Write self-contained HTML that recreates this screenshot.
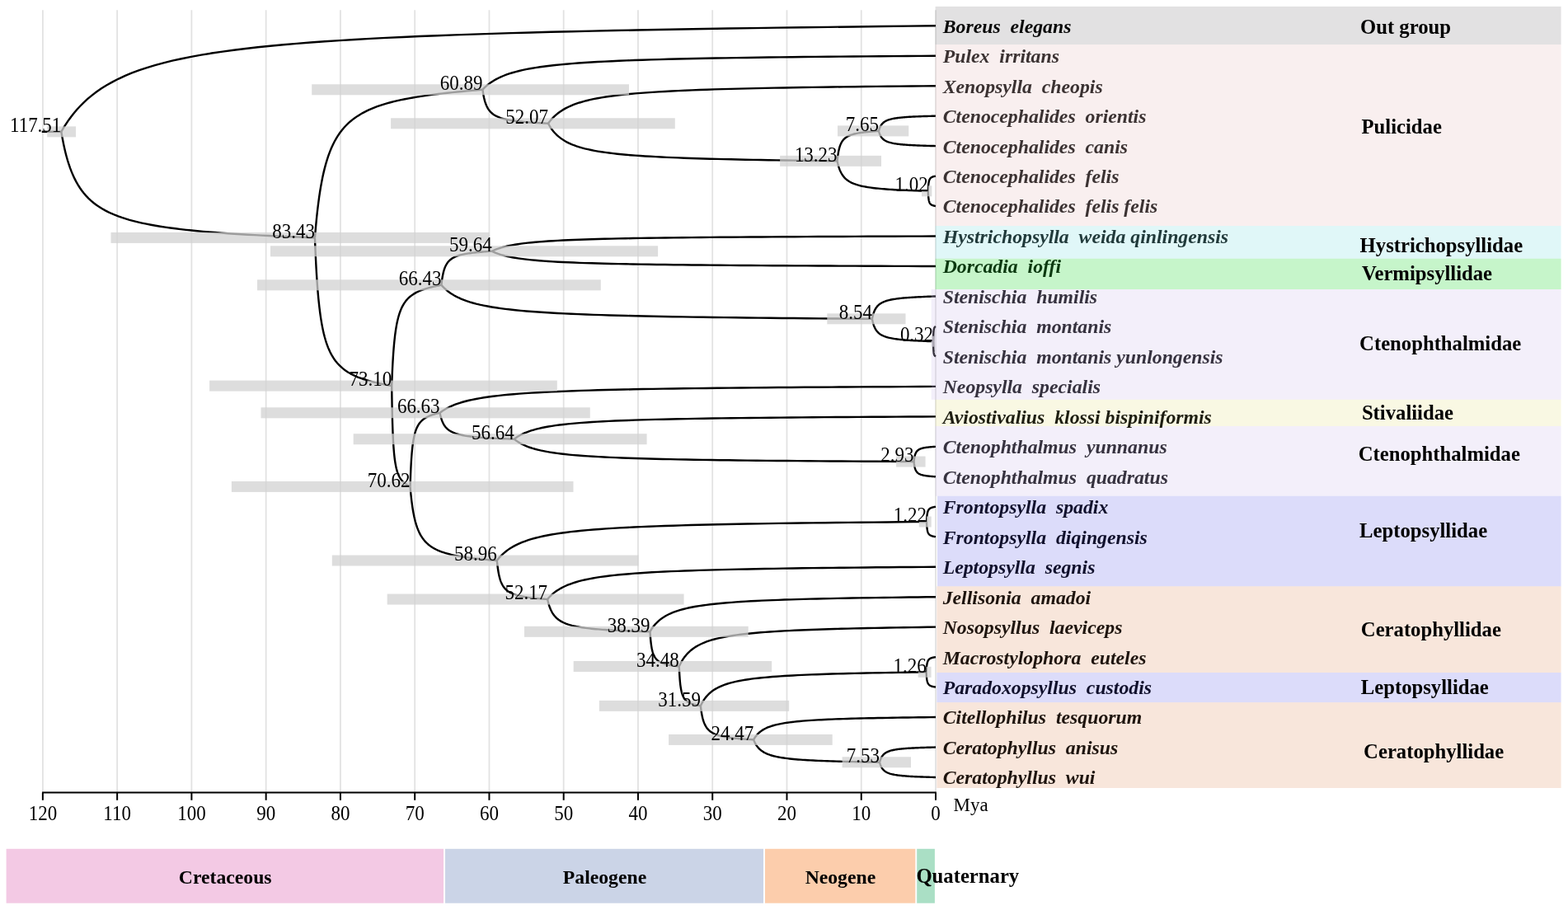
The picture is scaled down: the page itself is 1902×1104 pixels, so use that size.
<!DOCTYPE html><html><head><meta charset="utf-8"><title>Dated phylogeny</title><style>html,body{margin:0;padding:0;background:#fff;width:1902px;height:1104px;overflow:hidden}svg{display:block}text{font-family:"Liberation Serif","Times New Roman",serif}</style></head><body>
<svg width="1902" height="1104" viewBox="0 0 1902 1104">
<rect width="1902" height="1104" fill="#fff"/>
<g stroke="#e2e2e2" stroke-width="1.8"><line x1="1135.00" y1="12.3" x2="1135.00" y2="961" /><line x1="1044.74" y1="12.3" x2="1044.74" y2="961" /><line x1="954.48" y1="12.3" x2="954.48" y2="961" /><line x1="864.22" y1="12.3" x2="864.22" y2="961" /><line x1="773.96" y1="12.3" x2="773.96" y2="961" /><line x1="683.70" y1="12.3" x2="683.70" y2="961" /><line x1="593.44" y1="12.3" x2="593.44" y2="961" /><line x1="503.18" y1="12.3" x2="503.18" y2="961" /><line x1="412.92" y1="12.3" x2="412.92" y2="961" /><line x1="322.66" y1="12.3" x2="322.66" y2="961" /><line x1="232.40" y1="12.3" x2="232.40" y2="961" /><line x1="142.14" y1="12.3" x2="142.14" y2="961" /><line x1="51.88" y1="12.3" x2="51.88" y2="961" /></g>
<g fill="none" stroke="#000" stroke-width="2.4" stroke-linecap="butt"><path d="M50.7 159.84 L74.35 159.84"/><path d="M74.35 159.84 L74.45 159.67 L74.79 159.06 L75.43 157.96 L76.37 156.35 L77.65 154.23 L79.28 151.63 L81.26 148.60 L83.62 145.18 L86.36 141.44 L89.49 137.45 L93.03 133.27 L96.96 128.96 L101.32 124.58 L106.09 120.19 L111.30 115.83 L116.93 111.53 L123.01 107.33 L129.52 103.26 L136.49 99.33 L143.92 95.55 L151.80 91.93 L160.14 88.48 L168.96 85.20 L178.24 82.09 L188.00 79.13 L198.25 76.34 L208.97 73.70 L220.19 71.21 L231.89 68.85 L244.09 66.63 L256.79 64.54 L269.98 62.57 L283.69 60.70 L297.90 58.95 L312.62 57.29 L327.85 55.72 L343.60 54.25 L359.87 52.85 L376.66 51.53 L393.97 50.28 L411.82 49.10 L430.19 47.98 L449.10 46.92 L468.54 45.91 L488.52 44.96 L509.03 44.05 L530.10 43.19 L551.70 42.37 L573.85 41.59 L596.55 40.84 L619.81 40.13 L643.61 39.46 L667.98 38.81 L692.90 38.19 L718.38 37.60 L744.42 37.04 L771.02 36.50 L798.20 35.98 L825.94 35.48 L854.25 34.99 L883.13 34.53 L912.59 34.09 L942.62 33.65 L973.23 33.24 L1004.42 32.83 L1036.19 32.43 L1068.54 32.05 L1101.48 31.66 L1135.00 31.25"/><path d="M74.35 159.84 L74.38 160.01 L74.48 160.61 L74.67 161.72 L74.94 163.33 L75.31 165.45 L75.78 168.05 L76.36 171.08 L77.04 174.50 L77.84 178.23 L78.75 182.23 L79.77 186.41 L80.91 190.72 L82.17 195.10 L83.56 199.49 L85.07 203.85 L86.70 208.15 L88.46 212.34 L90.35 216.42 L92.38 220.35 L94.53 224.13 L96.81 227.74 L99.24 231.19 L101.79 234.48 L104.48 237.59 L107.32 240.54 L110.29 243.34 L113.40 245.98 L116.65 248.47 L120.04 250.82 L123.58 253.04 L127.26 255.14 L131.09 257.11 L135.06 258.97 L139.19 260.73 L143.45 262.39 L147.87 263.95 L152.44 265.43 L157.16 266.83 L162.03 268.15 L167.05 269.40 L172.23 270.58 L177.55 271.70 L183.04 272.76 L188.67 273.77 L194.47 274.72 L200.42 275.63 L206.53 276.49 L212.79 277.31 L219.22 278.09 L225.80 278.83 L232.55 279.54 L239.45 280.22 L246.52 280.87 L253.74 281.48 L261.13 282.07 L268.69 282.64 L276.40 283.18 L284.28 283.70 L292.33 284.20 L300.54 284.68 L308.91 285.15 L317.46 285.59 L326.17 286.02 L335.04 286.44 L344.09 286.85 L353.30 287.24 L362.69 287.63 L372.24 288.02 L381.96 288.43"/><path d="M381.96 288.43 L381.98 288.19 L382.05 287.34 L382.17 285.80 L382.35 283.55 L382.59 280.59 L382.90 276.96 L383.29 272.72 L383.74 267.94 L384.26 262.72 L384.86 257.14 L385.54 251.30 L386.30 245.28 L387.13 239.16 L388.05 233.02 L389.05 226.93 L390.13 220.93 L391.29 215.06 L392.54 209.37 L393.88 203.88 L395.30 198.60 L396.82 193.54 L398.42 188.72 L400.11 184.14 L401.89 179.78 L403.76 175.66 L405.72 171.75 L407.78 168.07 L409.93 164.58 L412.18 161.29 L414.52 158.19 L416.95 155.27 L419.48 152.51 L422.11 149.90 L424.84 147.45 L427.66 145.13 L430.58 142.95 L433.61 140.88 L436.73 138.93 L439.95 137.08 L443.27 135.34 L446.69 133.69 L450.22 132.12 L453.84 130.64 L457.57 129.24 L461.40 127.90 L465.34 126.63 L469.38 125.43 L473.52 124.28 L477.77 123.19 L482.13 122.15 L486.59 121.16 L491.15 120.22 L495.83 119.32 L500.61 118.45 L505.49 117.63 L510.49 116.84 L515.59 116.08 L520.80 115.35 L526.12 114.65 L531.55 113.98 L537.09 113.33 L542.74 112.71 L548.51 112.11 L554.38 111.52 L560.36 110.96 L566.45 110.40 L572.66 109.86 L578.98 109.32 L585.41 108.75"/><path d="M381.96 288.43 L381.97 288.66 L382.00 289.51 L382.05 291.05 L382.14 293.31 L382.25 296.27 L382.39 299.90 L382.57 304.14 L382.78 308.91 L383.02 314.13 L383.29 319.71 L383.60 325.55 L383.95 331.58 L384.33 337.69 L384.75 343.83 L385.21 349.93 L385.70 355.93 L386.24 361.79 L386.81 367.49 L387.42 372.98 L388.08 378.26 L388.77 383.31 L389.50 388.13 L390.28 392.72 L391.09 397.07 L391.95 401.20 L392.85 405.10 L393.79 408.79 L394.78 412.27 L395.81 415.56 L396.88 418.66 L398.00 421.59 L399.16 424.35 L400.36 426.95 L401.61 429.41 L402.91 431.72 L404.24 433.91 L405.63 435.97 L407.06 437.93 L408.54 439.77 L410.06 441.52 L411.63 443.17 L413.24 444.73 L414.90 446.21 L416.61 447.62 L418.37 448.95 L420.17 450.22 L422.02 451.43 L423.92 452.57 L425.87 453.66 L427.87 454.70 L429.91 455.69 L432.00 456.64 L434.14 457.54 L436.34 458.40 L438.58 459.23 L440.86 460.02 L443.20 460.78 L445.59 461.50 L448.03 462.20 L450.52 462.87 L453.06 463.52 L455.65 464.14 L458.29 464.75 L460.98 465.33 L463.72 465.90 L466.51 466.45 L469.36 466.99 L472.25 467.53 L475.20 468.11"/><path d="M585.41 108.75 L585.46 108.69 L585.63 108.50 L585.96 108.15 L586.45 107.63 L587.11 106.96 L587.96 106.13 L588.99 105.16 L590.21 104.07 L591.63 102.88 L593.25 101.61 L595.08 100.27 L597.12 98.90 L599.38 97.50 L601.85 96.10 L604.55 94.71 L607.47 93.34 L610.62 92.00 L613.99 90.70 L617.61 89.44 L621.45 88.24 L625.54 87.08 L629.86 85.98 L634.43 84.93 L639.24 83.94 L644.30 83.00 L649.60 82.11 L655.16 81.26 L660.97 80.47 L667.04 79.72 L673.36 79.01 L679.94 78.34 L686.78 77.71 L693.88 77.12 L701.24 76.56 L708.87 76.03 L716.76 75.53 L724.92 75.06 L733.35 74.61 L742.05 74.19 L751.02 73.79 L760.27 73.41 L769.79 73.06 L779.59 72.72 L789.66 72.40 L800.01 72.09 L810.64 71.80 L821.56 71.53 L832.75 71.27 L844.23 71.02 L855.99 70.78 L868.04 70.55 L880.38 70.34 L893.00 70.13 L905.92 69.94 L919.12 69.75 L932.61 69.57 L946.40 69.39 L960.48 69.23 L974.85 69.07 L989.52 68.91 L1004.49 68.77 L1019.75 68.62 L1035.31 68.49 L1051.17 68.35 L1067.34 68.22 L1083.80 68.10 L1100.56 67.97 L1117.63 67.85 L1135.00 67.72"/><path d="M585.41 108.75 L585.41 108.80 L585.44 109.00 L585.49 109.35 L585.56 109.86 L585.65 110.54 L585.78 111.37 L585.93 112.34 L586.10 113.43 L586.31 114.62 L586.54 115.89 L586.81 117.23 L587.10 118.60 L587.43 120.00 L587.79 121.40 L588.18 122.79 L588.60 124.16 L589.06 125.50 L589.55 126.80 L590.07 128.06 L590.63 129.26 L591.22 130.42 L591.85 131.52 L592.51 132.56 L593.20 133.56 L593.94 134.50 L594.71 135.39 L595.51 136.23 L596.35 137.03 L597.23 137.78 L598.15 138.49 L599.10 139.16 L600.09 139.79 L601.12 140.38 L602.19 140.94 L603.29 141.47 L604.43 141.97 L605.62 142.44 L606.84 142.89 L608.10 143.31 L609.40 143.71 L610.74 144.08 L612.12 144.44 L613.53 144.78 L614.99 145.10 L616.49 145.40 L618.03 145.69 L619.61 145.97 L621.24 146.23 L622.90 146.48 L624.60 146.72 L626.35 146.94 L628.13 147.16 L629.96 147.36 L631.83 147.56 L633.75 147.75 L635.70 147.93 L637.70 148.10 L639.74 148.27 L641.82 148.43 L643.94 148.58 L646.11 148.73 L648.32 148.87 L650.58 149.01 L652.87 149.14 L655.21 149.27 L657.60 149.40 L660.03 149.52 L662.50 149.65 L665.02 149.78"/><path d="M665.02 149.78 L665.06 149.72 L665.21 149.50 L665.49 149.11 L665.91 148.54 L666.48 147.79 L667.20 146.87 L668.08 145.79 L669.12 144.58 L670.34 143.26 L671.72 141.84 L673.29 140.36 L675.03 138.83 L676.96 137.28 L679.08 135.72 L681.38 134.17 L683.88 132.65 L686.57 131.16 L689.46 129.72 L692.55 128.33 L695.84 126.99 L699.33 125.70 L703.03 124.48 L706.94 123.32 L711.05 122.21 L715.38 121.17 L719.91 120.18 L724.67 119.24 L729.64 118.36 L734.82 117.52 L740.23 116.73 L745.85 115.99 L751.70 115.29 L757.77 114.63 L764.07 114.01 L770.59 113.42 L777.34 112.87 L784.32 112.34 L791.53 111.85 L798.97 111.38 L806.64 110.94 L814.55 110.52 L822.69 110.12 L831.07 109.74 L839.68 109.39 L848.54 109.05 L857.63 108.73 L866.96 108.42 L876.53 108.13 L886.35 107.85 L896.41 107.59 L906.71 107.34 L917.26 107.10 L928.06 106.87 L939.10 106.65 L950.39 106.44 L961.93 106.24 L973.72 106.05 L985.76 105.87 L998.05 105.69 L1010.60 105.52 L1023.39 105.35 L1036.45 105.20 L1049.75 105.04 L1063.32 104.89 L1077.14 104.75 L1091.21 104.61 L1105.55 104.47 L1120.15 104.34 L1135.00 104.19"/><path d="M665.02 149.78 L665.05 149.84 L665.16 150.05 L665.37 150.44 L665.68 151.02 L666.11 151.77 L666.64 152.69 L667.30 153.76 L668.08 154.97 L668.98 156.30 L670.02 157.71 L671.19 159.20 L672.49 160.72 L673.93 162.28 L675.51 163.83 L677.23 165.38 L679.09 166.90 L681.10 168.39 L683.25 169.84 L685.55 171.23 L688.01 172.57 L690.61 173.85 L693.37 175.07 L696.28 176.24 L699.35 177.34 L702.58 178.39 L705.97 179.38 L709.51 180.32 L713.22 181.20 L717.09 182.03 L721.12 182.82 L725.31 183.56 L729.68 184.26 L734.21 184.92 L738.90 185.55 L743.77 186.13 L748.80 186.69 L754.01 187.21 L759.39 187.71 L764.94 188.18 L770.66 188.62 L776.56 189.04 L782.63 189.43 L788.88 189.81 L795.30 190.17 L801.91 190.51 L808.69 190.83 L815.65 191.13 L822.79 191.42 L830.11 191.70 L837.62 191.96 L845.30 192.22 L853.17 192.45 L861.22 192.68 L869.46 192.90 L877.88 193.11 L886.49 193.31 L895.28 193.51 L904.26 193.69 L913.43 193.87 L922.79 194.04 L932.34 194.20 L942.07 194.36 L952.00 194.51 L962.12 194.66 L972.42 194.80 L982.93 194.95 L993.62 195.08 L1004.51 195.22 L1015.59 195.36"/><path d="M1015.59 195.36 L1015.59 195.32 L1015.61 195.14 L1015.64 194.83 L1015.68 194.37 L1015.74 193.77 L1015.82 193.04 L1015.91 192.18 L1016.03 191.21 L1016.16 190.15 L1016.30 189.02 L1016.47 187.83 L1016.66 186.61 L1016.87 185.37 L1017.09 184.12 L1017.34 182.88 L1017.61 181.66 L1017.90 180.47 L1018.21 179.32 L1018.54 178.20 L1018.89 177.13 L1019.26 176.11 L1019.66 175.13 L1020.08 174.20 L1020.52 173.31 L1020.98 172.48 L1021.47 171.68 L1021.98 170.93 L1022.51 170.23 L1023.07 169.56 L1023.65 168.93 L1024.25 168.34 L1024.88 167.78 L1025.53 167.25 L1026.20 166.75 L1026.90 166.28 L1027.62 165.84 L1028.37 165.42 L1029.14 165.02 L1029.94 164.65 L1030.76 164.29 L1031.61 163.96 L1032.48 163.64 L1033.38 163.34 L1034.30 163.05 L1035.25 162.78 L1036.23 162.53 L1037.23 162.28 L1038.25 162.05 L1039.30 161.83 L1040.38 161.62 L1041.49 161.41 L1042.62 161.22 L1043.77 161.04 L1044.96 160.86 L1046.17 160.70 L1047.40 160.54 L1048.67 160.38 L1049.96 160.24 L1051.28 160.09 L1052.62 159.96 L1053.99 159.83 L1055.39 159.70 L1056.82 159.58 L1058.27 159.46 L1059.75 159.34 L1061.26 159.23 L1062.80 159.12 L1064.36 159.01 L1065.95 158.89"/><path d="M1015.59 195.36 L1015.60 195.41 L1015.63 195.59 L1015.70 195.90 L1015.80 196.36 L1015.93 196.96 L1016.10 197.69 L1016.30 198.55 L1016.55 199.52 L1016.83 200.58 L1017.16 201.71 L1017.53 202.90 L1017.94 204.12 L1018.39 205.36 L1018.88 206.61 L1019.42 207.85 L1020.01 209.07 L1020.64 210.26 L1021.32 211.41 L1022.04 212.53 L1022.81 213.60 L1023.63 214.62 L1024.50 215.60 L1025.42 216.53 L1026.38 217.42 L1027.39 218.25 L1028.46 219.05 L1029.57 219.80 L1030.74 220.50 L1031.95 221.17 L1033.22 221.80 L1034.54 222.39 L1035.91 222.95 L1037.34 223.48 L1038.81 223.98 L1040.34 224.45 L1041.93 224.89 L1043.56 225.31 L1045.25 225.71 L1047.00 226.08 L1048.80 226.44 L1050.65 226.77 L1052.56 227.09 L1054.52 227.39 L1056.54 227.68 L1058.62 227.95 L1060.75 228.20 L1062.94 228.45 L1065.19 228.68 L1067.49 228.90 L1069.85 229.11 L1072.26 229.32 L1074.74 229.51 L1077.27 229.69 L1079.86 229.87 L1082.50 230.03 L1085.21 230.19 L1087.97 230.35 L1090.80 230.49 L1093.68 230.64 L1096.62 230.77 L1099.62 230.90 L1102.68 231.03 L1105.80 231.15 L1108.98 231.27 L1112.23 231.39 L1115.53 231.50 L1118.89 231.61 L1122.31 231.72 L1125.79 231.83"/><path d="M1065.95 158.89 L1065.96 158.87 L1065.98 158.78 L1066.02 158.63 L1066.08 158.40 L1066.17 158.10 L1066.27 157.73 L1066.40 157.30 L1066.55 156.82 L1066.73 156.29 L1066.94 155.72 L1067.17 155.13 L1067.42 154.52 L1067.71 153.90 L1068.02 153.27 L1068.36 152.65 L1068.72 152.04 L1069.12 151.45 L1069.54 150.87 L1070.00 150.31 L1070.48 149.78 L1070.99 149.27 L1071.54 148.78 L1072.11 148.31 L1072.71 147.87 L1073.35 147.45 L1074.02 147.05 L1074.71 146.68 L1075.44 146.33 L1076.21 145.99 L1077.00 145.68 L1077.83 145.38 L1078.69 145.10 L1079.58 144.84 L1080.50 144.59 L1081.46 144.35 L1082.45 144.13 L1083.48 143.92 L1084.54 143.72 L1085.63 143.54 L1086.76 143.36 L1087.92 143.19 L1089.12 143.03 L1090.35 142.88 L1091.61 142.74 L1092.91 142.60 L1094.25 142.48 L1095.62 142.35 L1097.03 142.24 L1098.47 142.13 L1099.95 142.02 L1101.46 141.92 L1103.01 141.82 L1104.60 141.73 L1106.22 141.64 L1107.88 141.56 L1109.57 141.48 L1111.30 141.40 L1113.07 141.33 L1114.88 141.26 L1116.72 141.19 L1118.60 141.13 L1120.52 141.06 L1122.48 141.00 L1124.47 140.94 L1126.50 140.88 L1128.57 140.83 L1130.67 140.77 L1132.82 140.72 L1135.00 140.66"/><path d="M1065.95 158.89 L1065.96 158.92 L1065.98 159.01 L1066.02 159.16 L1066.08 159.39 L1066.17 159.69 L1066.27 160.06 L1066.40 160.49 L1066.55 160.97 L1066.73 161.50 L1066.94 162.07 L1067.17 162.66 L1067.42 163.27 L1067.71 163.89 L1068.02 164.52 L1068.36 165.14 L1068.72 165.75 L1069.12 166.34 L1069.54 166.92 L1070.00 167.48 L1070.48 168.01 L1070.99 168.52 L1071.54 169.01 L1072.11 169.48 L1072.71 169.92 L1073.35 170.34 L1074.02 170.74 L1074.71 171.11 L1075.44 171.46 L1076.21 171.80 L1077.00 172.11 L1077.83 172.41 L1078.69 172.69 L1079.58 172.95 L1080.50 173.20 L1081.46 173.44 L1082.45 173.66 L1083.48 173.87 L1084.54 174.07 L1085.63 174.25 L1086.76 174.43 L1087.92 174.60 L1089.12 174.76 L1090.35 174.91 L1091.61 175.05 L1092.91 175.19 L1094.25 175.31 L1095.62 175.44 L1097.03 175.55 L1098.47 175.66 L1099.95 175.77 L1101.46 175.87 L1103.01 175.97 L1104.60 176.06 L1106.22 176.15 L1107.88 176.23 L1109.57 176.31 L1111.30 176.39 L1113.07 176.46 L1114.88 176.53 L1116.72 176.60 L1118.60 176.66 L1120.52 176.73 L1122.48 176.79 L1124.47 176.85 L1126.50 176.91 L1128.57 176.96 L1130.67 177.02 L1132.82 177.07 L1135.00 177.13"/><path d="M1125.79 231.83 L1125.79 231.81 L1125.80 231.72 L1125.80 231.57 L1125.81 231.34 L1125.82 231.04 L1125.84 230.67 L1125.85 230.24 L1125.87 229.76 L1125.90 229.23 L1125.92 228.66 L1125.96 228.07 L1125.99 227.46 L1126.03 226.84 L1126.07 226.21 L1126.11 225.59 L1126.16 224.98 L1126.22 224.39 L1126.27 223.81 L1126.33 223.25 L1126.40 222.72 L1126.47 222.21 L1126.54 221.72 L1126.61 221.25 L1126.70 220.81 L1126.78 220.39 L1126.87 219.99 L1126.96 219.62 L1127.06 219.27 L1127.16 218.93 L1127.27 218.62 L1127.38 218.32 L1127.49 218.04 L1127.61 217.78 L1127.73 217.53 L1127.86 217.29 L1127.99 217.07 L1128.13 216.86 L1128.27 216.66 L1128.42 216.48 L1128.57 216.30 L1128.72 216.13 L1128.88 215.97 L1129.05 215.82 L1129.22 215.68 L1129.39 215.54 L1129.57 215.42 L1129.75 215.29 L1129.94 215.18 L1130.13 215.07 L1130.33 214.96 L1130.53 214.86 L1130.73 214.76 L1130.95 214.67 L1131.16 214.58 L1131.38 214.50 L1131.61 214.42 L1131.84 214.34 L1132.08 214.27 L1132.32 214.20 L1132.56 214.13 L1132.81 214.07 L1133.07 214.00 L1133.33 213.94 L1133.60 213.88 L1133.87 213.82 L1134.14 213.77 L1134.42 213.71 L1134.71 213.66 L1135.00 213.60"/><path d="M1125.79 231.83 L1125.79 231.86 L1125.80 231.95 L1125.80 232.10 L1125.81 232.33 L1125.82 232.63 L1125.84 233.00 L1125.85 233.43 L1125.87 233.91 L1125.90 234.44 L1125.92 235.01 L1125.96 235.60 L1125.99 236.21 L1126.03 236.83 L1126.07 237.46 L1126.11 238.08 L1126.16 238.69 L1126.22 239.28 L1126.27 239.86 L1126.33 240.42 L1126.40 240.95 L1126.47 241.46 L1126.54 241.95 L1126.61 242.42 L1126.70 242.86 L1126.78 243.28 L1126.87 243.68 L1126.96 244.05 L1127.06 244.40 L1127.16 244.74 L1127.27 245.05 L1127.38 245.35 L1127.49 245.63 L1127.61 245.89 L1127.73 246.14 L1127.86 246.38 L1127.99 246.60 L1128.13 246.81 L1128.27 247.01 L1128.42 247.19 L1128.57 247.37 L1128.72 247.54 L1128.88 247.70 L1129.05 247.85 L1129.22 247.99 L1129.39 248.13 L1129.57 248.25 L1129.75 248.38 L1129.94 248.49 L1130.13 248.60 L1130.33 248.71 L1130.53 248.81 L1130.73 248.91 L1130.95 249.00 L1131.16 249.09 L1131.38 249.17 L1131.61 249.25 L1131.84 249.33 L1132.08 249.40 L1132.32 249.47 L1132.56 249.54 L1132.81 249.60 L1133.07 249.67 L1133.33 249.73 L1133.60 249.79 L1133.87 249.85 L1134.14 249.90 L1134.42 249.96 L1134.71 250.01 L1135.00 250.07"/><path d="M475.20 468.11 L475.20 467.95 L475.22 467.37 L475.26 466.32 L475.31 464.79 L475.39 462.77 L475.48 460.30 L475.59 457.41 L475.73 454.16 L475.88 450.61 L476.06 446.81 L476.26 442.84 L476.48 438.74 L476.73 434.57 L477.00 430.40 L477.30 426.25 L477.62 422.16 L477.96 418.17 L478.33 414.29 L478.73 410.55 L479.15 406.96 L479.60 403.52 L480.07 400.24 L480.57 397.12 L481.10 394.15 L481.65 391.35 L482.23 388.69 L482.84 386.18 L483.48 383.81 L484.14 381.57 L484.83 379.46 L485.55 377.47 L486.30 375.59 L487.08 373.82 L487.89 372.15 L488.72 370.57 L489.59 369.08 L490.48 367.67 L491.41 366.35 L492.36 365.09 L493.34 363.90 L494.35 362.78 L495.40 361.71 L496.47 360.71 L497.57 359.75 L498.71 358.84 L499.87 357.98 L501.07 357.16 L502.29 356.38 L503.55 355.64 L504.84 354.93 L506.16 354.25 L507.51 353.61 L508.89 353.00 L510.31 352.41 L511.75 351.85 L513.23 351.31 L514.74 350.79 L516.29 350.30 L517.86 349.82 L519.47 349.37 L521.11 348.93 L522.78 348.50 L524.48 348.09 L526.22 347.69 L527.99 347.31 L529.79 346.93 L531.63 346.56 L533.50 346.19 L535.40 345.80"/><path d="M475.20 468.11 L475.20 468.27 L475.21 468.84 L475.22 469.89 L475.24 471.43 L475.27 473.44 L475.30 475.91 L475.35 478.80 L475.39 482.05 L475.45 485.60 L475.52 489.40 L475.59 493.38 L475.68 497.48 L475.77 501.64 L475.87 505.82 L475.98 509.97 L476.10 514.05 L476.23 518.04 L476.36 521.92 L476.51 525.66 L476.67 529.25 L476.83 532.69 L477.01 535.97 L477.20 539.10 L477.39 542.06 L477.60 544.87 L477.81 547.52 L478.04 550.03 L478.28 552.40 L478.52 554.64 L478.78 556.75 L479.05 558.75 L479.33 560.62 L479.62 562.40 L479.92 564.07 L480.23 565.64 L480.55 567.13 L480.88 568.54 L481.23 569.87 L481.58 571.12 L481.94 572.31 L482.32 573.43 L482.71 574.50 L483.11 575.51 L483.52 576.46 L483.94 577.37 L484.37 578.24 L484.82 579.06 L485.27 579.83 L485.74 580.58 L486.22 581.28 L486.71 581.96 L487.21 582.60 L487.73 583.22 L488.25 583.80 L488.79 584.37 L489.34 584.90 L489.90 585.42 L490.48 585.91 L491.06 586.39 L491.66 586.85 L492.27 587.29 L492.89 587.71 L493.52 588.12 L494.17 588.52 L494.83 588.91 L495.50 589.28 L496.18 589.65 L496.88 590.02 L497.58 590.41"/><path d="M535.40 345.80 L535.41 345.75 L535.43 345.56 L535.46 345.20 L535.52 344.69 L535.59 344.01 L535.69 343.18 L535.80 342.22 L535.94 341.13 L536.10 339.93 L536.28 338.66 L536.48 337.33 L536.71 335.95 L536.96 334.55 L537.24 333.15 L537.54 331.76 L537.86 330.39 L538.21 329.05 L538.59 327.75 L538.99 326.50 L539.42 325.29 L539.88 324.14 L540.36 323.04 L540.87 321.99 L541.41 321.00 L541.97 320.05 L542.56 319.16 L543.18 318.32 L543.83 317.52 L544.51 316.77 L545.21 316.07 L545.94 315.40 L546.71 314.77 L547.50 314.17 L548.32 313.61 L549.17 313.08 L550.05 312.58 L550.96 312.11 L551.90 311.67 L552.87 311.25 L553.87 310.85 L554.90 310.47 L555.96 310.11 L557.06 309.77 L558.18 309.45 L559.33 309.15 L560.52 308.86 L561.74 308.58 L562.98 308.32 L564.26 308.07 L565.58 307.84 L566.92 307.61 L568.30 307.39 L569.70 307.19 L571.14 306.99 L572.62 306.80 L574.12 306.62 L575.66 306.45 L577.23 306.28 L578.83 306.12 L580.47 305.97 L582.14 305.82 L583.84 305.68 L585.57 305.54 L587.34 305.41 L589.14 305.28 L590.98 305.15 L592.85 305.03 L594.75 304.91 L596.69 304.77"/><path d="M535.40 345.80 L535.45 345.86 L535.62 346.05 L535.93 346.40 L536.40 346.92 L537.03 347.59 L537.83 348.42 L538.81 349.39 L539.97 350.48 L541.32 351.67 L542.86 352.95 L544.60 354.28 L546.54 355.66 L548.69 357.05 L551.04 358.45 L553.60 359.85 L556.38 361.22 L559.37 362.56 L562.58 363.86 L566.01 365.11 L569.67 366.32 L573.55 367.47 L577.67 368.57 L582.01 369.62 L586.58 370.61 L591.39 371.55 L596.44 372.45 L601.72 373.29 L607.24 374.08 L613.01 374.83 L619.02 375.54 L625.28 376.21 L631.78 376.84 L638.53 377.43 L645.53 378.00 L652.78 378.52 L660.28 379.02 L668.04 379.50 L676.06 379.94 L684.33 380.36 L692.86 380.76 L701.65 381.14 L710.70 381.50 L720.02 381.83 L729.59 382.15 L739.43 382.46 L749.54 382.75 L759.92 383.02 L770.56 383.29 L781.47 383.53 L792.66 383.77 L804.11 384.00 L815.84 384.21 L827.84 384.42 L840.12 384.62 L852.67 384.81 L865.50 384.99 L878.61 385.16 L892.00 385.32 L905.66 385.48 L919.61 385.64 L933.84 385.79 L948.35 385.93 L963.14 386.07 L978.22 386.20 L993.59 386.33 L1009.24 386.45 L1025.18 386.58 L1041.40 386.70 L1057.92 386.83"/><path d="M596.69 304.77 L596.74 304.75 L596.91 304.66 L597.23 304.51 L597.71 304.28 L598.36 303.98 L599.19 303.61 L600.20 303.18 L601.39 302.70 L602.78 302.17 L604.37 301.60 L606.17 301.01 L608.16 300.40 L610.37 299.78 L612.80 299.15 L615.44 298.53 L618.30 297.92 L621.38 297.33 L624.69 296.75 L628.23 296.19 L631.99 295.66 L635.99 295.15 L640.23 294.66 L644.70 294.19 L649.42 293.75 L654.37 293.33 L659.57 292.93 L665.01 292.56 L670.70 292.21 L676.64 291.87 L682.83 291.56 L689.28 291.26 L695.98 290.98 L702.93 290.72 L710.14 290.47 L717.61 290.23 L725.35 290.01 L733.34 289.80 L741.60 289.60 L750.12 289.42 L758.91 289.24 L767.96 289.07 L777.29 288.91 L786.88 288.76 L796.75 288.62 L806.89 288.48 L817.30 288.36 L827.99 288.23 L838.96 288.12 L850.20 288.01 L861.72 287.90 L873.52 287.80 L885.61 287.70 L897.97 287.61 L910.62 287.52 L923.55 287.44 L936.77 287.36 L950.27 287.28 L964.06 287.21 L978.14 287.14 L992.51 287.07 L1007.17 287.01 L1022.12 286.94 L1037.36 286.88 L1052.90 286.82 L1068.72 286.76 L1084.85 286.71 L1101.27 286.65 L1117.99 286.60 L1135.00 286.54"/><path d="M596.69 304.77 L596.74 304.80 L596.91 304.89 L597.23 305.04 L597.71 305.27 L598.36 305.57 L599.19 305.94 L600.20 306.37 L601.39 306.85 L602.78 307.38 L604.37 307.95 L606.17 308.54 L608.16 309.15 L610.37 309.77 L612.80 310.40 L615.44 311.02 L618.30 311.63 L621.38 312.22 L624.69 312.80 L628.23 313.36 L631.99 313.89 L635.99 314.40 L640.23 314.89 L644.70 315.36 L649.42 315.80 L654.37 316.22 L659.57 316.62 L665.01 316.99 L670.70 317.34 L676.64 317.68 L682.83 317.99 L689.28 318.29 L695.98 318.57 L702.93 318.83 L710.14 319.08 L717.61 319.32 L725.35 319.54 L733.34 319.75 L741.60 319.95 L750.12 320.13 L758.91 320.31 L767.96 320.48 L777.29 320.64 L786.88 320.79 L796.75 320.93 L806.89 321.07 L817.30 321.19 L827.99 321.32 L838.96 321.43 L850.20 321.54 L861.72 321.65 L873.52 321.75 L885.61 321.85 L897.97 321.94 L910.62 322.03 L923.55 322.11 L936.77 322.19 L950.27 322.27 L964.06 322.34 L978.14 322.41 L992.51 322.48 L1007.17 322.54 L1022.12 322.61 L1037.36 322.67 L1052.90 322.73 L1068.72 322.79 L1084.85 322.84 L1101.27 322.90 L1117.99 322.95 L1135.00 323.01"/><path d="M1057.92 386.83 L1057.92 386.80 L1057.95 386.67 L1058.00 386.43 L1058.06 386.09 L1058.16 385.64 L1058.28 385.09 L1058.42 384.44 L1058.59 383.71 L1058.79 382.92 L1059.02 382.07 L1059.27 381.18 L1059.56 380.26 L1059.88 379.33 L1060.22 378.40 L1060.60 377.47 L1061.01 376.56 L1061.45 375.66 L1061.93 374.80 L1062.43 373.96 L1062.97 373.16 L1063.55 372.39 L1064.15 371.65 L1064.79 370.96 L1065.47 370.29 L1066.18 369.67 L1066.92 369.07 L1067.70 368.51 L1068.52 367.98 L1069.37 367.48 L1070.25 367.01 L1071.18 366.56 L1072.14 366.14 L1073.13 365.75 L1074.16 365.37 L1075.23 365.02 L1076.34 364.69 L1077.49 364.37 L1078.67 364.07 L1079.89 363.79 L1081.15 363.53 L1082.44 363.28 L1083.78 363.04 L1085.15 362.81 L1086.57 362.60 L1088.02 362.40 L1089.51 362.20 L1091.04 362.02 L1092.61 361.84 L1094.22 361.68 L1095.87 361.52 L1097.56 361.37 L1099.29 361.23 L1101.06 361.09 L1102.87 360.96 L1104.72 360.83 L1106.61 360.71 L1108.55 360.60 L1110.52 360.49 L1112.54 360.38 L1114.60 360.28 L1116.70 360.18 L1118.84 360.08 L1121.02 359.99 L1123.24 359.90 L1125.51 359.82 L1127.82 359.73 L1130.17 359.65 L1132.56 359.57 L1135.00 359.48"/><path d="M1057.92 386.83 L1057.92 386.87 L1057.95 387.00 L1057.99 387.23 L1058.06 387.58 L1058.15 388.03 L1058.26 388.58 L1058.40 389.22 L1058.57 389.95 L1058.76 390.75 L1058.98 391.59 L1059.22 392.48 L1059.50 393.40 L1059.80 394.33 L1060.14 395.27 L1060.50 396.19 L1060.90 397.11 L1061.32 398.00 L1061.78 398.87 L1062.26 399.70 L1062.78 400.51 L1063.34 401.28 L1063.92 402.01 L1064.54 402.71 L1065.19 403.37 L1065.87 404.00 L1066.58 404.59 L1067.33 405.16 L1068.12 405.69 L1068.94 406.19 L1069.79 406.66 L1070.68 407.10 L1071.60 407.52 L1072.56 407.92 L1073.55 408.29 L1074.58 408.65 L1075.65 408.98 L1076.75 409.29 L1077.89 409.59 L1079.06 409.87 L1080.28 410.14 L1081.52 410.39 L1082.81 410.63 L1084.13 410.85 L1085.49 411.07 L1086.89 411.27 L1088.32 411.46 L1089.80 411.65 L1091.31 411.82 L1092.86 411.99 L1094.45 412.14 L1096.07 412.30 L1097.74 412.44 L1099.44 412.58 L1101.19 412.71 L1102.97 412.83 L1104.79 412.95 L1106.65 413.07 L1108.55 413.18 L1110.49 413.29 L1112.47 413.39 L1114.49 413.49 L1116.55 413.58 L1118.65 413.67 L1120.80 413.76 L1122.98 413.85 L1125.20 413.93 L1127.46 414.02 L1129.77 414.10 L1132.11 414.18"/><path d="M1132.11 414.18 L1132.11 414.16 L1132.11 414.07 L1132.11 413.92 L1132.12 413.69 L1132.12 413.39 L1132.13 413.02 L1132.13 412.59 L1132.14 412.11 L1132.14 411.58 L1132.15 411.01 L1132.16 410.42 L1132.17 409.81 L1132.19 409.19 L1132.20 408.56 L1132.21 407.94 L1132.23 407.33 L1132.24 406.74 L1132.26 406.16 L1132.28 405.60 L1132.30 405.07 L1132.32 404.56 L1132.35 404.07 L1132.37 403.60 L1132.39 403.16 L1132.42 402.74 L1132.45 402.34 L1132.48 401.97 L1132.51 401.62 L1132.54 401.28 L1132.57 400.97 L1132.61 400.67 L1132.64 400.39 L1132.68 400.13 L1132.72 399.88 L1132.76 399.64 L1132.80 399.42 L1132.84 399.21 L1132.89 399.01 L1132.93 398.83 L1132.98 398.65 L1133.03 398.48 L1133.08 398.32 L1133.13 398.17 L1133.19 398.03 L1133.24 397.89 L1133.30 397.77 L1133.35 397.64 L1133.41 397.53 L1133.47 397.42 L1133.53 397.31 L1133.60 397.21 L1133.66 397.11 L1133.73 397.02 L1133.80 396.93 L1133.87 396.85 L1133.94 396.77 L1134.01 396.69 L1134.08 396.62 L1134.16 396.55 L1134.24 396.48 L1134.31 396.42 L1134.39 396.35 L1134.48 396.29 L1134.56 396.23 L1134.64 396.17 L1134.73 396.12 L1134.82 396.06 L1134.91 396.01 L1135.00 395.95"/><path d="M1132.11 414.18 L1132.11 414.21 L1132.11 414.30 L1132.11 414.45 L1132.12 414.68 L1132.12 414.98 L1132.13 415.35 L1132.13 415.78 L1132.14 416.26 L1132.14 416.79 L1132.15 417.36 L1132.16 417.95 L1132.17 418.56 L1132.19 419.18 L1132.20 419.81 L1132.21 420.43 L1132.23 421.04 L1132.24 421.63 L1132.26 422.21 L1132.28 422.77 L1132.30 423.30 L1132.32 423.81 L1132.35 424.30 L1132.37 424.77 L1132.39 425.21 L1132.42 425.63 L1132.45 426.03 L1132.48 426.40 L1132.51 426.75 L1132.54 427.09 L1132.57 427.40 L1132.61 427.70 L1132.64 427.98 L1132.68 428.24 L1132.72 428.49 L1132.76 428.73 L1132.80 428.95 L1132.84 429.16 L1132.89 429.36 L1132.93 429.54 L1132.98 429.72 L1133.03 429.89 L1133.08 430.05 L1133.13 430.20 L1133.19 430.34 L1133.24 430.48 L1133.30 430.60 L1133.35 430.73 L1133.41 430.84 L1133.47 430.95 L1133.53 431.06 L1133.60 431.16 L1133.66 431.26 L1133.73 431.35 L1133.80 431.44 L1133.87 431.52 L1133.94 431.60 L1134.01 431.68 L1134.08 431.75 L1134.16 431.82 L1134.24 431.89 L1134.31 431.95 L1134.39 432.02 L1134.48 432.08 L1134.56 432.14 L1134.64 432.20 L1134.73 432.25 L1134.82 432.31 L1134.91 432.36 L1135.00 432.42"/><path d="M497.58 590.41 L497.59 590.29 L497.60 589.87 L497.62 589.10 L497.65 587.98 L497.70 586.50 L497.75 584.69 L497.82 582.57 L497.90 580.19 L497.99 577.59 L498.10 574.81 L498.22 571.89 L498.35 568.89 L498.50 565.84 L498.66 562.78 L498.84 559.74 L499.03 556.75 L499.24 553.82 L499.46 550.98 L499.69 548.24 L499.95 545.61 L500.21 543.09 L500.50 540.68 L500.80 538.40 L501.11 536.23 L501.44 534.17 L501.79 532.22 L502.15 530.38 L502.54 528.65 L502.93 527.01 L503.35 525.46 L503.78 524.00 L504.23 522.62 L504.69 521.33 L505.17 520.10 L505.67 518.95 L506.19 517.86 L506.73 516.83 L507.28 515.85 L507.85 514.93 L508.44 514.06 L509.04 513.24 L509.67 512.46 L510.31 511.72 L510.97 511.02 L511.65 510.35 L512.34 509.72 L513.06 509.12 L513.79 508.55 L514.54 508.00 L515.31 507.49 L516.10 506.99 L516.91 506.52 L517.74 506.07 L518.59 505.64 L519.45 505.23 L520.34 504.83 L521.24 504.46 L522.16 504.09 L523.10 503.75 L524.06 503.41 L525.05 503.09 L526.05 502.78 L527.07 502.48 L528.10 502.19 L529.16 501.90 L530.24 501.63 L531.34 501.36 L532.46 501.09 L533.60 500.80"/><path d="M497.58 590.41 L497.59 590.53 L497.63 590.95 L497.69 591.72 L497.78 592.84 L497.91 594.32 L498.07 596.13 L498.27 598.24 L498.50 600.62 L498.78 603.23 L499.09 606.01 L499.44 608.92 L499.83 611.93 L500.26 614.98 L500.73 618.04 L501.25 621.08 L501.81 624.07 L502.41 627.00 L503.06 629.84 L503.75 632.58 L504.49 635.21 L505.27 637.73 L506.10 640.13 L506.97 642.42 L507.89 644.59 L508.86 646.65 L509.88 648.60 L510.94 650.44 L512.05 652.17 L513.22 653.81 L514.43 655.36 L515.69 656.82 L517.00 658.19 L518.35 659.49 L519.76 660.72 L521.23 661.87 L522.74 662.96 L524.30 663.99 L525.91 664.97 L527.58 665.89 L529.30 666.76 L531.07 667.58 L532.89 668.36 L534.77 669.10 L536.70 669.80 L538.68 670.47 L540.72 671.10 L542.80 671.70 L544.95 672.27 L547.15 672.81 L549.40 673.33 L551.71 673.83 L554.07 674.30 L556.49 674.75 L558.96 675.18 L561.49 675.59 L564.07 675.98 L566.71 676.36 L569.41 676.72 L572.16 677.07 L574.97 677.41 L577.84 677.73 L580.76 678.04 L583.74 678.34 L586.78 678.63 L589.87 678.92 L593.02 679.19 L596.23 679.46 L599.50 679.73 L602.83 680.02"/><path d="M533.60 500.80 L533.65 500.76 L533.85 500.61 L534.20 500.34 L534.74 499.93 L535.47 499.41 L536.39 498.76 L537.51 498.01 L538.85 497.16 L540.41 496.24 L542.18 495.25 L544.18 494.21 L546.42 493.14 L548.89 492.05 L551.59 490.96 L554.54 489.88 L557.74 488.81 L561.18 487.77 L564.88 486.76 L568.83 485.78 L573.04 484.85 L577.51 483.95 L582.24 483.09 L587.24 482.28 L592.50 481.51 L598.04 480.77 L603.85 480.08 L609.93 479.42 L616.29 478.81 L622.92 478.22 L629.84 477.67 L637.04 477.15 L644.52 476.66 L652.29 476.20 L660.35 475.76 L668.69 475.35 L677.33 474.96 L686.26 474.60 L695.49 474.25 L705.01 473.92 L714.83 473.61 L724.94 473.32 L735.36 473.04 L746.08 472.78 L757.11 472.53 L768.43 472.29 L780.07 472.07 L792.01 471.85 L804.26 471.65 L816.82 471.46 L829.69 471.27 L842.88 471.09 L856.38 470.93 L870.19 470.77 L884.32 470.61 L898.77 470.47 L913.53 470.33 L928.62 470.19 L944.03 470.06 L959.76 469.94 L975.81 469.82 L992.19 469.70 L1008.89 469.59 L1025.92 469.49 L1043.27 469.38 L1060.96 469.28 L1078.97 469.18 L1097.32 469.09 L1115.99 468.99 L1135.00 468.89"/><path d="M533.60 500.80 L533.61 500.84 L533.63 500.99 L533.69 501.27 L533.77 501.67 L533.88 502.19 L534.02 502.84 L534.18 503.59 L534.39 504.44 L534.62 505.37 L534.88 506.36 L535.18 507.40 L535.52 508.46 L535.89 509.55 L536.30 510.64 L536.74 511.72 L537.22 512.79 L537.73 513.83 L538.29 514.84 L538.88 515.82 L539.51 516.76 L540.18 517.65 L540.89 518.51 L541.64 519.32 L542.43 520.10 L543.26 520.83 L544.13 521.52 L545.04 522.18 L546.00 522.80 L546.99 523.38 L548.03 523.93 L549.11 524.45 L550.23 524.94 L551.39 525.40 L552.60 525.84 L553.85 526.25 L555.15 526.64 L556.49 527.01 L557.87 527.35 L559.30 527.68 L560.77 527.99 L562.29 528.28 L563.85 528.56 L565.46 528.82 L567.11 529.07 L568.81 529.31 L570.55 529.54 L572.34 529.75 L574.18 529.95 L576.06 530.15 L577.99 530.33 L579.97 530.51 L581.99 530.68 L584.06 530.84 L586.18 530.99 L588.35 531.14 L590.56 531.28 L592.82 531.41 L595.13 531.54 L597.49 531.66 L599.90 531.78 L602.35 531.90 L604.86 532.01 L607.41 532.12 L610.01 532.22 L612.67 532.32 L615.37 532.42 L618.12 532.51 L620.92 532.61 L623.77 532.71"/><path d="M623.77 532.71 L623.81 532.68 L623.98 532.55 L624.28 532.31 L624.74 531.97 L625.36 531.52 L626.14 530.97 L627.10 530.32 L628.23 529.59 L629.55 528.80 L631.06 527.95 L632.77 527.06 L634.67 526.14 L636.76 525.21 L639.07 524.28 L641.57 523.35 L644.29 522.44 L647.22 521.54 L650.36 520.68 L653.72 519.84 L657.30 519.04 L661.10 518.27 L665.12 517.53 L669.37 516.84 L673.84 516.17 L678.55 515.55 L683.48 514.95 L688.65 514.39 L694.06 513.86 L699.70 513.36 L705.58 512.89 L711.70 512.44 L718.06 512.02 L724.67 511.63 L731.51 511.25 L738.61 510.90 L745.95 510.57 L753.54 510.25 L761.39 509.95 L769.48 509.67 L777.82 509.41 L786.43 509.16 L795.28 508.92 L804.39 508.69 L813.76 508.48 L823.39 508.28 L833.28 508.08 L843.43 507.90 L853.85 507.72 L864.53 507.56 L875.47 507.40 L886.68 507.25 L898.15 507.11 L909.89 506.97 L921.91 506.84 L934.19 506.71 L946.74 506.59 L959.56 506.48 L972.66 506.37 L986.03 506.26 L999.68 506.16 L1013.60 506.06 L1027.80 505.96 L1042.27 505.87 L1057.03 505.78 L1072.06 505.70 L1087.37 505.61 L1102.97 505.53 L1118.84 505.45 L1135.00 505.36"/><path d="M623.77 532.71 L623.81 532.75 L623.97 532.88 L624.26 533.11 L624.69 533.46 L625.27 533.91 L626.02 534.46 L626.92 535.10 L628.00 535.83 L629.26 536.63 L630.69 537.47 L632.30 538.36 L634.10 539.28 L636.09 540.21 L638.27 541.15 L640.65 542.07 L643.23 542.99 L646.00 543.88 L648.98 544.75 L652.17 545.58 L655.56 546.39 L659.16 547.16 L662.98 547.89 L667.01 548.59 L671.25 549.25 L675.71 549.88 L680.39 550.47 L685.30 551.04 L690.42 551.57 L695.77 552.07 L701.35 552.54 L707.15 552.98 L713.18 553.40 L719.45 553.80 L725.94 554.17 L732.67 554.53 L739.63 554.86 L746.83 555.17 L754.27 555.47 L761.94 555.75 L769.86 556.02 L778.01 556.27 L786.41 556.51 L795.05 556.73 L803.94 556.95 L813.07 557.15 L822.45 557.34 L832.07 557.53 L841.95 557.70 L852.07 557.87 L862.45 558.02 L873.08 558.18 L883.96 558.32 L895.09 558.46 L906.48 558.59 L918.13 558.71 L930.03 558.83 L942.19 558.95 L954.61 559.06 L967.29 559.17 L980.23 559.27 L993.43 559.37 L1006.90 559.46 L1020.62 559.55 L1034.61 559.64 L1048.87 559.73 L1063.39 559.81 L1078.18 559.90 L1093.23 559.98 L1108.55 560.06"/><path d="M1108.55 560.06 L1108.56 560.04 L1108.56 559.95 L1108.58 559.80 L1108.60 559.57 L1108.64 559.27 L1108.68 558.90 L1108.73 558.47 L1108.78 557.99 L1108.85 557.46 L1108.93 556.89 L1109.02 556.30 L1109.12 555.69 L1109.23 555.07 L1109.35 554.44 L1109.47 553.82 L1109.62 553.21 L1109.77 552.62 L1109.93 552.04 L1110.10 551.48 L1110.29 550.95 L1110.48 550.44 L1110.69 549.95 L1110.91 549.48 L1111.14 549.04 L1111.39 548.62 L1111.64 548.22 L1111.91 547.85 L1112.19 547.50 L1112.48 547.16 L1112.79 546.85 L1113.10 546.55 L1113.43 546.27 L1113.77 546.01 L1114.13 545.76 L1114.49 545.52 L1114.87 545.30 L1115.27 545.09 L1115.67 544.89 L1116.09 544.71 L1116.52 544.53 L1116.97 544.36 L1117.43 544.20 L1117.90 544.05 L1118.38 543.91 L1118.88 543.77 L1119.39 543.65 L1119.92 543.52 L1120.46 543.41 L1121.01 543.30 L1121.57 543.19 L1122.15 543.09 L1122.75 542.99 L1123.36 542.90 L1123.98 542.81 L1124.61 542.73 L1125.26 542.65 L1125.92 542.57 L1126.60 542.50 L1127.29 542.43 L1128.00 542.36 L1128.72 542.30 L1129.45 542.23 L1130.20 542.17 L1130.97 542.11 L1131.74 542.05 L1132.54 542.00 L1133.34 541.94 L1134.16 541.89 L1135.00 541.83"/><path d="M1108.55 560.06 L1108.56 560.09 L1108.56 560.18 L1108.58 560.33 L1108.60 560.56 L1108.64 560.86 L1108.68 561.23 L1108.73 561.66 L1108.78 562.14 L1108.85 562.67 L1108.93 563.24 L1109.02 563.83 L1109.12 564.44 L1109.23 565.06 L1109.35 565.69 L1109.47 566.31 L1109.62 566.92 L1109.77 567.51 L1109.93 568.09 L1110.10 568.65 L1110.29 569.18 L1110.48 569.69 L1110.69 570.18 L1110.91 570.65 L1111.14 571.09 L1111.39 571.51 L1111.64 571.91 L1111.91 572.28 L1112.19 572.63 L1112.48 572.97 L1112.79 573.28 L1113.10 573.58 L1113.43 573.86 L1113.77 574.12 L1114.13 574.37 L1114.49 574.61 L1114.87 574.83 L1115.27 575.04 L1115.67 575.24 L1116.09 575.42 L1116.52 575.60 L1116.97 575.77 L1117.43 575.93 L1117.90 576.08 L1118.38 576.22 L1118.88 576.36 L1119.39 576.48 L1119.92 576.61 L1120.46 576.72 L1121.01 576.83 L1121.57 576.94 L1122.15 577.04 L1122.75 577.14 L1123.36 577.23 L1123.98 577.32 L1124.61 577.40 L1125.26 577.48 L1125.92 577.56 L1126.60 577.63 L1127.29 577.70 L1128.00 577.77 L1128.72 577.83 L1129.45 577.90 L1130.20 577.96 L1130.97 578.02 L1131.74 578.08 L1132.54 578.13 L1133.34 578.19 L1134.16 578.24 L1135.00 578.30"/><path d="M602.83 680.02 L602.87 679.96 L603.04 679.73 L603.35 679.33 L603.82 678.74 L604.45 677.97 L605.24 677.02 L606.22 675.91 L607.38 674.66 L608.73 673.29 L610.27 671.83 L612.00 670.30 L613.94 668.73 L616.08 667.13 L618.42 665.52 L620.98 663.93 L623.75 662.36 L626.73 660.82 L629.94 659.33 L633.36 657.89 L637.01 656.51 L640.88 655.19 L644.98 653.93 L649.31 652.73 L653.87 651.59 L658.67 650.51 L663.70 649.49 L668.97 648.52 L674.48 647.61 L680.23 646.75 L686.23 645.94 L692.47 645.18 L698.95 644.45 L705.68 643.77 L712.67 643.13 L719.90 642.52 L727.38 641.95 L735.12 641.41 L743.12 640.90 L751.37 640.42 L759.88 639.96 L768.64 639.53 L777.67 639.12 L786.96 638.73 L796.51 638.37 L806.33 638.02 L816.41 637.68 L826.76 637.37 L837.38 637.07 L848.26 636.78 L859.42 636.51 L870.84 636.25 L882.54 636.01 L894.51 635.77 L906.75 635.54 L919.27 635.33 L932.07 635.12 L945.14 634.92 L958.50 634.73 L972.13 634.55 L986.04 634.37 L1000.23 634.20 L1014.70 634.04 L1029.46 633.88 L1044.50 633.73 L1059.82 633.58 L1075.43 633.44 L1091.33 633.30 L1107.52 633.15 L1123.99 633.00"/><path d="M602.83 680.02 L602.83 680.08 L602.85 680.30 L602.89 680.70 L602.94 681.29 L603.02 682.07 L603.11 683.02 L603.23 684.13 L603.36 685.38 L603.52 686.74 L603.70 688.20 L603.91 689.73 L604.13 691.31 L604.39 692.91 L604.66 694.51 L604.96 696.11 L605.29 697.68 L605.64 699.21 L606.01 700.70 L606.42 702.14 L606.85 703.52 L607.30 704.84 L607.78 706.10 L608.29 707.30 L608.83 708.44 L609.39 709.52 L609.99 710.54 L610.61 711.51 L611.25 712.42 L611.93 713.28 L612.63 714.09 L613.37 714.86 L614.13 715.58 L614.92 716.26 L615.74 716.90 L616.59 717.51 L617.47 718.08 L618.38 718.62 L619.32 719.13 L620.29 719.62 L621.30 720.07 L622.33 720.50 L623.39 720.91 L624.48 721.30 L625.60 721.67 L626.76 722.02 L627.94 722.35 L629.16 722.66 L630.41 722.96 L631.69 723.25 L633.00 723.52 L634.34 723.78 L635.72 724.03 L637.13 724.26 L638.57 724.49 L640.04 724.71 L641.54 724.91 L643.08 725.11 L644.65 725.30 L646.26 725.48 L647.89 725.66 L649.56 725.83 L651.26 725.99 L653.00 726.15 L654.77 726.30 L656.57 726.45 L658.40 726.60 L660.27 726.74 L662.18 726.88 L664.11 727.03"/><path d="M1123.99 633.00 L1123.99 632.98 L1123.99 632.89 L1124.00 632.74 L1124.01 632.51 L1124.02 632.21 L1124.04 631.84 L1124.06 631.41 L1124.08 630.93 L1124.11 630.40 L1124.15 629.83 L1124.18 629.24 L1124.22 628.63 L1124.27 628.01 L1124.32 627.38 L1124.37 626.76 L1124.43 626.15 L1124.49 625.56 L1124.56 624.98 L1124.63 624.42 L1124.71 623.89 L1124.79 623.38 L1124.88 622.89 L1124.97 622.42 L1125.07 621.98 L1125.17 621.56 L1125.27 621.16 L1125.39 620.79 L1125.50 620.44 L1125.62 620.10 L1125.75 619.79 L1125.88 619.49 L1126.02 619.21 L1126.16 618.95 L1126.31 618.70 L1126.46 618.46 L1126.62 618.24 L1126.78 618.03 L1126.95 617.83 L1127.13 617.65 L1127.31 617.47 L1127.49 617.30 L1127.68 617.14 L1127.88 616.99 L1128.08 616.85 L1128.29 616.71 L1128.50 616.59 L1128.72 616.46 L1128.94 616.35 L1129.17 616.24 L1129.41 616.13 L1129.65 616.03 L1129.90 615.93 L1130.15 615.84 L1130.41 615.75 L1130.67 615.67 L1130.94 615.59 L1131.22 615.51 L1131.50 615.44 L1131.79 615.37 L1132.09 615.30 L1132.39 615.24 L1132.69 615.17 L1133.00 615.11 L1133.32 615.05 L1133.64 614.99 L1133.97 614.94 L1134.31 614.88 L1134.65 614.83 L1135.00 614.77"/><path d="M1123.99 633.00 L1123.99 633.03 L1123.99 633.12 L1124.00 633.27 L1124.01 633.50 L1124.02 633.80 L1124.04 634.17 L1124.06 634.60 L1124.08 635.08 L1124.11 635.61 L1124.15 636.18 L1124.18 636.77 L1124.22 637.38 L1124.27 638.00 L1124.32 638.63 L1124.37 639.25 L1124.43 639.86 L1124.49 640.45 L1124.56 641.03 L1124.63 641.59 L1124.71 642.12 L1124.79 642.63 L1124.88 643.12 L1124.97 643.59 L1125.07 644.03 L1125.17 644.45 L1125.27 644.85 L1125.39 645.22 L1125.50 645.57 L1125.62 645.91 L1125.75 646.22 L1125.88 646.52 L1126.02 646.80 L1126.16 647.06 L1126.31 647.31 L1126.46 647.55 L1126.62 647.77 L1126.78 647.98 L1126.95 648.18 L1127.13 648.36 L1127.31 648.54 L1127.49 648.71 L1127.68 648.87 L1127.88 649.02 L1128.08 649.16 L1128.29 649.30 L1128.50 649.42 L1128.72 649.55 L1128.94 649.66 L1129.17 649.77 L1129.41 649.88 L1129.65 649.98 L1129.90 650.08 L1130.15 650.17 L1130.41 650.26 L1130.67 650.34 L1130.94 650.42 L1131.22 650.50 L1131.50 650.57 L1131.79 650.64 L1132.09 650.71 L1132.39 650.77 L1132.69 650.84 L1133.00 650.90 L1133.32 650.96 L1133.64 651.02 L1133.97 651.07 L1134.31 651.13 L1134.65 651.18 L1135.00 651.24"/><path d="M664.11 727.03 L664.16 726.98 L664.31 726.79 L664.59 726.46 L665.01 725.96 L665.58 725.31 L666.30 724.52 L667.18 723.59 L668.23 722.55 L669.44 721.40 L670.83 720.18 L672.40 718.90 L674.15 717.59 L676.08 716.25 L678.20 714.91 L680.51 713.57 L683.02 712.26 L685.71 710.97 L688.61 709.73 L691.70 708.53 L695.00 707.37 L698.50 706.27 L702.20 705.21 L706.11 704.21 L710.24 703.25 L714.57 702.35 L719.12 701.50 L723.88 700.69 L728.86 699.93 L734.05 699.21 L739.47 698.53 L745.11 697.89 L750.97 697.29 L757.05 696.72 L763.36 696.18 L769.89 695.67 L776.66 695.19 L783.65 694.74 L790.87 694.31 L798.33 693.91 L806.01 693.53 L813.93 693.17 L822.09 692.83 L830.49 692.50 L839.12 692.19 L847.99 691.90 L857.09 691.62 L866.45 691.36 L876.04 691.11 L885.87 690.87 L895.95 690.64 L906.27 690.43 L916.84 690.22 L927.66 690.02 L938.72 689.83 L950.03 689.65 L961.60 689.48 L973.41 689.31 L985.47 689.15 L997.79 689.00 L1010.36 688.86 L1023.18 688.71 L1036.26 688.58 L1049.59 688.44 L1063.18 688.32 L1077.03 688.19 L1091.13 688.07 L1105.49 687.95 L1120.12 687.84 L1135.00 687.71"/><path d="M664.11 727.03 L664.12 727.08 L664.17 727.27 L664.24 727.60 L664.35 728.10 L664.50 728.74 L664.69 729.54 L664.92 730.47 L665.20 731.51 L665.52 732.65 L665.89 733.87 L666.30 735.15 L666.76 736.47 L667.28 737.81 L667.84 739.15 L668.45 740.49 L669.11 741.80 L669.82 743.08 L670.58 744.33 L671.40 745.53 L672.27 746.69 L673.20 747.79 L674.17 748.85 L675.21 749.85 L676.30 750.80 L677.44 751.71 L678.64 752.56 L679.90 753.37 L681.21 754.13 L682.59 754.85 L684.02 755.53 L685.51 756.17 L687.05 756.77 L688.66 757.34 L690.33 757.88 L692.05 758.39 L693.84 758.87 L695.69 759.32 L697.59 759.74 L699.56 760.15 L701.59 760.53 L703.69 760.89 L705.84 761.23 L708.06 761.56 L710.34 761.87 L712.68 762.16 L715.09 762.43 L717.56 762.70 L720.09 762.95 L722.69 763.19 L725.35 763.41 L728.08 763.63 L730.87 763.84 L733.73 764.04 L736.65 764.22 L739.64 764.41 L742.69 764.58 L745.81 764.74 L749.00 764.90 L752.25 765.06 L755.57 765.20 L758.96 765.34 L762.41 765.48 L765.93 765.61 L769.52 765.74 L773.18 765.87 L776.90 765.99 L780.70 766.11 L784.56 766.22 L788.49 766.35"/><path d="M788.49 766.35 L788.52 766.29 L788.64 766.09 L788.84 765.73 L789.15 765.20 L789.57 764.51 L790.10 763.66 L790.75 762.66 L791.52 761.54 L792.41 760.32 L793.44 759.01 L794.59 757.64 L795.88 756.22 L797.30 754.79 L798.86 753.35 L800.56 751.92 L802.40 750.51 L804.39 749.13 L806.52 747.79 L808.79 746.51 L811.22 745.27 L813.79 744.08 L816.52 742.95 L819.40 741.87 L822.43 740.85 L825.62 739.88 L828.97 738.97 L832.47 738.10 L836.13 737.28 L839.96 736.51 L843.94 735.78 L848.09 735.10 L852.40 734.45 L856.88 733.84 L861.52 733.26 L866.33 732.72 L871.31 732.21 L876.45 731.72 L881.77 731.26 L887.25 730.83 L892.91 730.42 L898.74 730.03 L904.74 729.67 L910.92 729.32 L917.27 728.99 L923.80 728.67 L930.50 728.38 L937.38 728.09 L944.44 727.83 L951.68 727.57 L959.09 727.33 L966.69 727.09 L974.47 726.87 L982.43 726.66 L990.57 726.46 L998.89 726.26 L1007.40 726.08 L1016.09 725.90 L1024.97 725.73 L1034.03 725.57 L1043.28 725.41 L1052.72 725.26 L1062.34 725.11 L1072.15 724.97 L1082.15 724.83 L1092.34 724.70 L1102.72 724.57 L1113.29 724.44 L1124.05 724.31 L1135.00 724.18"/><path d="M788.49 766.35 L788.50 766.40 L788.51 766.60 L788.53 766.96 L788.56 767.49 L788.60 768.19 L788.66 769.04 L788.72 770.04 L788.80 771.16 L788.89 772.38 L789.00 773.69 L789.11 775.06 L789.24 776.47 L789.39 777.91 L789.55 779.35 L789.72 780.78 L789.91 782.19 L790.11 783.57 L790.33 784.90 L790.56 786.19 L790.81 787.43 L791.07 788.62 L791.35 789.75 L791.64 790.82 L791.95 791.85 L792.27 792.81 L792.61 793.73 L792.97 794.60 L793.34 795.41 L793.73 796.19 L794.14 796.91 L794.56 797.60 L795.00 798.25 L795.46 798.86 L795.93 799.43 L796.42 799.98 L796.93 800.49 L797.45 800.98 L797.99 801.43 L798.55 801.87 L799.13 802.28 L799.72 802.66 L800.33 803.03 L800.96 803.38 L801.61 803.71 L802.27 804.02 L802.96 804.32 L803.66 804.60 L804.37 804.87 L805.11 805.13 L805.87 805.37 L806.64 805.60 L807.43 805.83 L808.24 806.04 L809.07 806.24 L809.92 806.43 L810.79 806.62 L811.67 806.80 L812.58 806.97 L813.50 807.13 L814.44 807.29 L815.40 807.44 L816.38 807.59 L817.38 807.73 L818.40 807.87 L819.44 808.00 L820.50 808.13 L821.57 808.26 L822.67 808.38 L823.78 808.52"/><path d="M823.78 808.52 L823.81 808.45 L823.91 808.23 L824.10 807.82 L824.38 807.22 L824.75 806.43 L825.23 805.46 L825.81 804.33 L826.50 803.06 L827.31 801.67 L828.23 800.18 L829.26 798.63 L830.42 797.02 L831.70 795.39 L833.10 793.76 L834.62 792.13 L836.28 790.53 L838.06 788.97 L839.97 787.46 L842.02 785.99 L844.19 784.59 L846.51 783.24 L848.96 781.96 L851.54 780.73 L854.27 779.57 L857.13 778.47 L860.14 777.43 L863.28 776.45 L866.57 775.52 L870.01 774.65 L873.59 773.82 L877.31 773.04 L881.19 772.31 L885.21 771.61 L889.38 770.96 L893.69 770.34 L898.16 769.76 L902.79 769.21 L907.56 768.69 L912.49 768.20 L917.57 767.73 L922.80 767.29 L928.19 766.88 L933.74 766.48 L939.45 766.11 L945.31 765.75 L951.33 765.41 L957.51 765.09 L963.85 764.79 L970.35 764.50 L977.01 764.22 L983.83 763.96 L990.82 763.71 L997.96 763.47 L1005.28 763.24 L1012.75 763.02 L1020.39 762.80 L1028.20 762.60 L1036.17 762.41 L1044.31 762.22 L1052.62 762.04 L1061.10 761.87 L1069.74 761.71 L1078.55 761.54 L1087.53 761.39 L1096.68 761.24 L1106.01 761.09 L1115.50 760.95 L1125.16 760.80 L1135.00 760.65"/><path d="M823.78 808.52 L823.79 808.58 L823.79 808.81 L823.81 809.22 L823.83 809.82 L823.86 810.61 L823.90 811.57 L823.95 812.70 L824.01 813.97 L824.08 815.36 L824.16 816.85 L824.24 818.41 L824.34 820.01 L824.45 821.64 L824.56 823.28 L824.69 824.90 L824.83 826.50 L824.98 828.06 L825.14 829.58 L825.31 831.04 L825.49 832.45 L825.69 833.79 L825.89 835.08 L826.11 836.30 L826.34 837.46 L826.58 838.56 L826.83 839.60 L827.09 840.58 L827.37 841.51 L827.66 842.39 L827.96 843.21 L828.27 843.99 L828.59 844.73 L828.93 845.42 L829.28 846.07 L829.64 846.69 L830.02 847.27 L830.41 847.82 L830.81 848.34 L831.22 848.84 L831.64 849.30 L832.08 849.74 L832.53 850.16 L833.00 850.55 L833.48 850.93 L833.97 851.28 L834.47 851.62 L834.99 851.94 L835.52 852.25 L836.07 852.54 L836.63 852.81 L837.20 853.08 L837.78 853.33 L838.38 853.57 L839.00 853.80 L839.62 854.02 L840.26 854.23 L840.92 854.43 L841.59 854.62 L842.27 854.81 L842.96 854.99 L843.67 855.16 L844.40 855.33 L845.14 855.49 L845.89 855.64 L846.66 855.80 L847.44 855.94 L848.23 856.09 L849.04 856.23 L849.87 856.38"/><path d="M849.87 856.38 L849.89 856.33 L849.98 856.14 L850.15 855.78 L850.39 855.27 L850.72 854.59 L851.14 853.76 L851.65 852.80 L852.26 851.71 L852.97 850.51 L853.78 849.24 L854.69 847.91 L855.70 846.53 L856.83 845.13 L858.06 843.73 L859.40 842.34 L860.86 840.97 L862.43 839.63 L864.11 838.33 L865.91 837.08 L867.82 835.87 L869.86 834.72 L872.01 833.62 L874.29 832.57 L876.68 831.58 L879.20 830.63 L881.85 829.74 L884.61 828.90 L887.51 828.10 L890.53 827.35 L893.68 826.65 L896.96 825.98 L900.36 825.35 L903.90 824.75 L907.57 824.19 L911.37 823.66 L915.30 823.16 L919.36 822.69 L923.56 822.25 L927.90 821.83 L932.36 821.43 L936.97 821.05 L941.71 820.69 L946.59 820.35 L951.61 820.03 L956.77 819.73 L962.06 819.44 L967.50 819.16 L973.07 818.90 L978.79 818.65 L984.65 818.42 L990.65 818.19 L996.80 817.97 L1003.09 817.77 L1009.52 817.57 L1016.09 817.38 L1022.82 817.20 L1029.68 817.03 L1036.70 816.86 L1043.86 816.70 L1051.16 816.55 L1058.62 816.40 L1066.22 816.26 L1073.97 816.12 L1081.87 815.99 L1089.92 815.86 L1098.12 815.73 L1106.47 815.61 L1114.97 815.49 L1123.63 815.36"/><path d="M849.87 856.38 L849.87 856.44 L849.90 856.63 L849.93 856.98 L849.99 857.50 L850.07 858.17 L850.17 859.00 L850.29 859.97 L850.43 861.06 L850.60 862.25 L850.79 863.53 L851.00 864.86 L851.24 866.24 L851.50 867.63 L851.79 869.03 L852.11 870.43 L852.45 871.80 L852.82 873.14 L853.21 874.44 L853.63 875.69 L854.08 876.90 L854.56 878.05 L855.07 879.15 L855.60 880.20 L856.16 881.19 L856.75 882.13 L857.38 883.03 L858.03 883.87 L858.70 884.66 L859.41 885.41 L860.15 886.12 L860.92 886.79 L861.72 887.42 L862.55 888.01 L863.41 888.58 L864.30 889.10 L865.23 889.60 L866.18 890.08 L867.17 890.52 L868.19 890.94 L869.23 891.34 L870.32 891.72 L871.43 892.08 L872.57 892.41 L873.75 892.73 L874.96 893.04 L876.21 893.33 L877.48 893.60 L878.79 893.87 L880.13 894.11 L881.51 894.35 L882.92 894.58 L884.36 894.79 L885.84 895.00 L887.35 895.20 L888.89 895.39 L890.47 895.57 L892.08 895.74 L893.73 895.90 L895.41 896.06 L897.12 896.22 L898.87 896.37 L900.66 896.51 L902.48 896.65 L904.33 896.78 L906.22 896.91 L908.15 897.03 L910.11 897.16 L912.10 897.28 L914.13 897.41"/><path d="M1123.63 815.36 L1123.63 815.33 L1123.63 815.24 L1123.64 815.09 L1123.65 814.86 L1123.66 814.56 L1123.68 814.19 L1123.70 813.76 L1123.73 813.28 L1123.76 812.75 L1123.79 812.18 L1123.83 811.59 L1123.87 810.98 L1123.92 810.36 L1123.97 809.73 L1124.02 809.11 L1124.08 808.50 L1124.15 807.91 L1124.22 807.33 L1124.29 806.77 L1124.37 806.24 L1124.46 805.73 L1124.55 805.24 L1124.64 804.77 L1124.74 804.33 L1124.85 803.91 L1124.96 803.51 L1125.07 803.14 L1125.19 802.79 L1125.32 802.45 L1125.45 802.14 L1125.58 801.84 L1125.72 801.56 L1125.87 801.30 L1126.02 801.05 L1126.18 800.81 L1126.35 800.59 L1126.51 800.38 L1126.69 800.18 L1126.87 800.00 L1127.05 799.82 L1127.25 799.65 L1127.44 799.49 L1127.65 799.34 L1127.85 799.20 L1128.07 799.06 L1128.29 798.94 L1128.51 798.81 L1128.75 798.70 L1128.98 798.59 L1129.23 798.48 L1129.48 798.38 L1129.73 798.28 L1129.99 798.19 L1130.26 798.10 L1130.53 798.02 L1130.81 797.94 L1131.10 797.86 L1131.39 797.79 L1131.69 797.72 L1131.99 797.65 L1132.30 797.59 L1132.62 797.52 L1132.94 797.46 L1133.27 797.40 L1133.60 797.34 L1133.94 797.29 L1134.29 797.23 L1134.64 797.18 L1135.00 797.12"/><path d="M1123.63 815.36 L1123.63 815.38 L1123.63 815.47 L1123.64 815.62 L1123.65 815.85 L1123.66 816.15 L1123.68 816.52 L1123.70 816.95 L1123.73 817.43 L1123.76 817.96 L1123.79 818.53 L1123.83 819.12 L1123.87 819.73 L1123.92 820.35 L1123.97 820.98 L1124.02 821.60 L1124.08 822.21 L1124.15 822.80 L1124.22 823.38 L1124.29 823.94 L1124.37 824.47 L1124.46 824.98 L1124.55 825.47 L1124.64 825.94 L1124.74 826.38 L1124.85 826.80 L1124.96 827.20 L1125.07 827.57 L1125.19 827.92 L1125.32 828.26 L1125.45 828.57 L1125.58 828.87 L1125.72 829.15 L1125.87 829.41 L1126.02 829.66 L1126.18 829.90 L1126.35 830.12 L1126.51 830.33 L1126.69 830.53 L1126.87 830.71 L1127.05 830.89 L1127.25 831.06 L1127.44 831.22 L1127.65 831.37 L1127.85 831.51 L1128.07 831.65 L1128.29 831.77 L1128.51 831.90 L1128.75 832.01 L1128.98 832.12 L1129.23 832.23 L1129.48 832.33 L1129.73 832.43 L1129.99 832.52 L1130.26 832.61 L1130.53 832.69 L1130.81 832.77 L1131.10 832.85 L1131.39 832.92 L1131.69 832.99 L1131.99 833.06 L1132.30 833.12 L1132.62 833.19 L1132.94 833.25 L1133.27 833.31 L1133.60 833.37 L1133.94 833.42 L1134.29 833.48 L1134.64 833.53 L1135.00 833.59"/><path d="M914.13 897.41 L914.15 897.38 L914.23 897.25 L914.36 897.01 L914.55 896.67 L914.82 896.22 L915.16 895.67 L915.57 895.02 L916.06 894.29 L916.63 893.50 L917.29 892.65 L918.02 891.76 L918.84 890.84 L919.75 889.91 L920.74 888.98 L921.83 888.05 L923.00 887.14 L924.26 886.24 L925.62 885.38 L927.07 884.54 L928.62 883.74 L930.26 882.97 L932.00 882.23 L933.83 881.54 L935.77 880.87 L937.80 880.25 L939.93 879.65 L942.17 879.09 L944.50 878.56 L946.94 878.06 L949.48 877.59 L952.12 877.14 L954.87 876.72 L957.72 876.33 L960.68 875.95 L963.75 875.60 L966.92 875.27 L970.20 874.95 L973.59 874.65 L977.08 874.37 L980.69 874.11 L984.41 873.86 L988.23 873.62 L992.17 873.39 L996.22 873.18 L1000.38 872.98 L1004.65 872.78 L1009.04 872.60 L1013.54 872.42 L1018.15 872.26 L1022.88 872.10 L1027.72 871.95 L1032.67 871.81 L1037.75 871.67 L1042.94 871.54 L1048.24 871.41 L1053.67 871.29 L1059.21 871.18 L1064.86 871.07 L1070.64 870.96 L1076.54 870.86 L1082.55 870.76 L1088.69 870.66 L1094.94 870.57 L1101.31 870.48 L1107.81 870.40 L1114.42 870.31 L1121.16 870.23 L1128.02 870.15 L1135.00 870.06"/><path d="M914.13 897.41 L914.15 897.45 L914.20 897.58 L914.29 897.81 L914.42 898.16 L914.61 898.61 L914.84 899.16 L915.13 899.80 L915.47 900.53 L915.86 901.33 L916.32 902.17 L916.83 903.06 L917.39 903.98 L918.02 904.91 L918.71 905.85 L919.46 906.77 L920.27 907.69 L921.15 908.58 L922.09 909.45 L923.09 910.28 L924.16 911.09 L925.30 911.86 L926.50 912.59 L927.77 913.29 L929.11 913.95 L930.52 914.58 L931.99 915.17 L933.54 915.74 L935.16 916.27 L936.84 916.77 L938.60 917.24 L940.43 917.68 L942.34 918.10 L944.31 918.50 L946.36 918.87 L948.48 919.23 L950.68 919.56 L952.95 919.87 L955.29 920.17 L957.71 920.45 L960.21 920.72 L962.78 920.97 L965.43 921.21 L968.16 921.43 L970.96 921.65 L973.84 921.85 L976.80 922.04 L979.83 922.23 L982.95 922.40 L986.14 922.57 L989.41 922.72 L992.77 922.88 L996.20 923.02 L999.71 923.16 L1003.30 923.29 L1006.97 923.41 L1010.73 923.53 L1014.56 923.65 L1018.48 923.76 L1022.48 923.87 L1026.56 923.97 L1030.73 924.07 L1034.97 924.16 L1039.30 924.25 L1043.71 924.34 L1048.21 924.43 L1052.79 924.51 L1057.45 924.60 L1062.20 924.68 L1067.03 924.76"/><path d="M1067.03 924.76 L1067.04 924.74 L1067.06 924.65 L1067.10 924.50 L1067.16 924.27 L1067.25 923.97 L1067.35 923.60 L1067.48 923.17 L1067.63 922.69 L1067.80 922.16 L1068.00 921.59 L1068.23 921.00 L1068.48 920.39 L1068.76 919.77 L1069.07 919.14 L1069.40 918.52 L1069.76 917.91 L1070.15 917.32 L1070.57 916.74 L1071.02 916.18 L1071.49 915.65 L1072.00 915.14 L1072.53 914.65 L1073.10 914.18 L1073.69 913.74 L1074.32 913.32 L1074.97 912.92 L1075.66 912.55 L1076.38 912.20 L1077.13 911.86 L1077.91 911.55 L1078.72 911.25 L1079.57 910.97 L1080.45 910.71 L1081.36 910.46 L1082.30 910.22 L1083.28 910.00 L1084.29 909.79 L1085.33 909.59 L1086.41 909.41 L1087.52 909.23 L1088.66 909.06 L1089.84 908.90 L1091.05 908.75 L1092.29 908.61 L1093.57 908.47 L1094.89 908.35 L1096.24 908.22 L1097.62 908.11 L1099.04 908.00 L1100.50 907.89 L1101.99 907.79 L1103.51 907.69 L1105.07 907.60 L1106.67 907.51 L1108.30 907.43 L1109.97 907.35 L1111.68 907.27 L1113.42 907.20 L1115.20 907.13 L1117.01 907.06 L1118.86 907.00 L1120.75 906.93 L1122.67 906.87 L1124.63 906.81 L1126.63 906.75 L1128.67 906.70 L1130.74 906.64 L1132.85 906.59 L1135.00 906.53"/><path d="M1067.03 924.76 L1067.04 924.79 L1067.06 924.88 L1067.10 925.03 L1067.16 925.26 L1067.25 925.56 L1067.35 925.93 L1067.48 926.36 L1067.63 926.84 L1067.80 927.37 L1068.00 927.94 L1068.23 928.53 L1068.48 929.14 L1068.76 929.76 L1069.07 930.39 L1069.40 931.01 L1069.76 931.62 L1070.15 932.21 L1070.57 932.79 L1071.02 933.35 L1071.49 933.88 L1072.00 934.39 L1072.53 934.88 L1073.10 935.35 L1073.69 935.79 L1074.32 936.21 L1074.97 936.61 L1075.66 936.98 L1076.38 937.33 L1077.13 937.67 L1077.91 937.98 L1078.72 938.28 L1079.57 938.56 L1080.45 938.82 L1081.36 939.07 L1082.30 939.31 L1083.28 939.53 L1084.29 939.74 L1085.33 939.94 L1086.41 940.12 L1087.52 940.30 L1088.66 940.47 L1089.84 940.63 L1091.05 940.78 L1092.29 940.92 L1093.57 941.06 L1094.89 941.18 L1096.24 941.31 L1097.62 941.42 L1099.04 941.53 L1100.50 941.64 L1101.99 941.74 L1103.51 941.84 L1105.07 941.93 L1106.67 942.02 L1108.30 942.10 L1109.97 942.18 L1111.68 942.26 L1113.42 942.33 L1115.20 942.40 L1117.01 942.47 L1118.86 942.53 L1120.75 942.60 L1122.67 942.66 L1124.63 942.72 L1126.63 942.78 L1128.67 942.83 L1130.74 942.89 L1132.85 942.94 L1135.00 943.00"/></g>
<g fill="#d2d2d2" fill-opacity="0.75"><rect x="57.2" y="153.34" width="34.8" height="13.0"/><rect x="134.5" y="281.93" width="459.0" height="13.0"/><rect x="378.2" y="102.25" width="384.8" height="13.0"/><rect x="474.1" y="143.28" width="344.7" height="13.0"/><rect x="946.1" y="188.86" width="122.9" height="13.0"/><rect x="1016.0" y="152.39" width="86.2" height="13.0"/><rect x="1118.0" y="231.83" width="7.8" height="6.5"/><rect x="1125.8" y="225.33" width="4.5" height="13.0"/><rect x="328.0" y="298.27" width="470.1" height="13.0"/><rect x="312.0" y="339.30" width="416.8" height="13.0"/><rect x="1003.3" y="380.33" width="95.2" height="13.0"/><rect x="1129.6" y="407.68" width="3.8" height="13.0"/><rect x="254.1" y="461.61" width="421.7" height="13.0"/><rect x="316.5" y="494.30" width="399.3" height="13.0"/><rect x="428.7" y="526.21" width="355.9" height="13.0"/><rect x="1087.1" y="553.56" width="35.5" height="13.0"/><rect x="280.9" y="583.91" width="414.6" height="13.0"/><rect x="1114.8" y="633.00" width="9.2" height="6.5"/><rect x="1124.0" y="626.50" width="5.7" height="13.0"/><rect x="402.8" y="673.52" width="371.8" height="13.0"/><rect x="469.7" y="720.53" width="359.9" height="13.0"/><rect x="636.0" y="759.85" width="271.7" height="13.0"/><rect x="695.7" y="802.02" width="240.4" height="13.0"/><rect x="1113.7" y="815.36" width="9.9" height="6.5"/><rect x="1123.6" y="808.86" width="6.0" height="13.0"/><rect x="726.9" y="849.88" width="230.3" height="13.0"/><rect x="811.1" y="890.91" width="198.6" height="13.0"/><rect x="1021.6" y="918.26" width="83.4" height="13.0"/></g>
<g font-size="23" fill="#000"><text transform="translate(74.35 160.14) scale(1 1.07)" text-anchor="end">117.51</text><text transform="translate(381.96 288.73) scale(1 1.07)" text-anchor="end">83.43</text><text transform="translate(585.41 109.05) scale(1 1.07)" text-anchor="end">60.89</text><text transform="translate(665.02 150.08) scale(1 1.07)" text-anchor="end">52.07</text><text transform="translate(1015.59 195.66) scale(1 1.07)" text-anchor="end">13.23</text><text transform="translate(1065.95 159.19) scale(1 1.07)" text-anchor="end">7.65</text><text transform="translate(1125.79 232.13) scale(1 1.07)" text-anchor="end">1.02</text><text transform="translate(475.20 468.41) scale(1 1.07)" text-anchor="end">73.10</text><text transform="translate(535.40 346.10) scale(1 1.07)" text-anchor="end">66.43</text><text transform="translate(596.69 305.07) scale(1 1.07)" text-anchor="end">59.64</text><text transform="translate(1057.92 387.13) scale(1 1.07)" text-anchor="end">8.54</text><text transform="translate(1132.11 414.48) scale(1 1.07)" text-anchor="end">0.32</text><text transform="translate(497.58 590.71) scale(1 1.07)" text-anchor="end">70.62</text><text transform="translate(533.60 501.10) scale(1 1.07)" text-anchor="end">66.63</text><text transform="translate(623.77 533.01) scale(1 1.07)" text-anchor="end">56.64</text><text transform="translate(1108.55 560.36) scale(1 1.07)" text-anchor="end">2.93</text><text transform="translate(602.83 680.32) scale(1 1.07)" text-anchor="end">58.96</text><text transform="translate(1123.99 633.30) scale(1 1.07)" text-anchor="end">1.22</text><text transform="translate(664.11 727.33) scale(1 1.07)" text-anchor="end">52.17</text><text transform="translate(788.49 766.65) scale(1 1.07)" text-anchor="end">38.39</text><text transform="translate(823.78 808.82) scale(1 1.07)" text-anchor="end">34.48</text><text transform="translate(849.87 856.68) scale(1 1.07)" text-anchor="end">31.59</text><text transform="translate(1123.63 815.65) scale(1 1.07)" text-anchor="end">1.26</text><text transform="translate(914.13 897.71) scale(1 1.07)" text-anchor="end">24.47</text><text transform="translate(1067.03 925.06) scale(1 1.07)" text-anchor="end">7.53</text></g>
<g fill-opacity="0.26"><rect x="1134.6" y="7.9" width="759.0" height="46.1" fill="rgb(143,140,143)"/><rect x="1134.6" y="54.0" width="759.0" height="220.0" fill="rgb(232,193,193)"/><rect x="1134.6" y="274.0" width="759.0" height="39.8" fill="rgb(136,224,228)"/><rect x="1134.6" y="313.8" width="759.0" height="37.2" fill="rgb(36,217,51)"/><rect x="1129.7" y="351.0" width="763.9" height="133.8" fill="rgb(209,193,236)"/><rect x="1134.6" y="484.8" width="759.0" height="32.2" fill="rgb(232,228,147)"/><rect x="1134.6" y="517.0" width="759.0" height="84.8" fill="rgb(209,193,236)"/><rect x="1137.0" y="601.8" width="756.6" height="109.5" fill="rgb(120,120,236)"/><rect x="1136.3" y="711.3" width="757.3" height="104.7" fill="rgb(228,159,117)"/><rect x="1136.3" y="816.0" width="757.3" height="36.1" fill="rgb(120,120,236)"/><rect x="1136.3" y="852.1" width="757.3" height="103.9" fill="rgb(228,159,117)"/></g>
<g font-size="23.75" font-weight="bold" font-style="italic"><text x="1143.7" y="39.65" fill="#080808" xml:space="preserve">Boreus  elegans</text><text x="1143.7" y="76.12" fill="#3b3232" xml:space="preserve">Pulex  irritans</text><text x="1143.7" y="112.59" fill="#3b3232" xml:space="preserve">Xenopsylla  cheopis</text><text x="1143.7" y="149.06" fill="#3b3232" xml:space="preserve">Ctenocephalides  orientis</text><text x="1143.7" y="185.53" fill="#3b3232" xml:space="preserve">Ctenocephalides  canis</text><text x="1143.7" y="222.00" fill="#3b3232" xml:space="preserve">Ctenocephalides  felis</text><text x="1143.7" y="258.47" fill="#3b3232" xml:space="preserve">Ctenocephalides  felis felis</text><text x="1143.7" y="294.94" fill="#213a3b" xml:space="preserve">Hystrichopsylla  weida qinlingensis</text><text x="1143.7" y="331.41" fill="#0a380f" xml:space="preserve">Dorcadia  ioffi</text><text x="1143.7" y="367.88" fill="#36323f" xml:space="preserve">Stenischia  humilis</text><text x="1143.7" y="404.35" fill="#36323f" xml:space="preserve">Stenischia  montanis</text><text x="1143.7" y="440.82" fill="#36323f" xml:space="preserve">Stenischia  montanis yunlongensis</text><text x="1143.7" y="477.29" fill="#36323f" xml:space="preserve">Neopsylla  specialis</text><text x="1143.7" y="513.76" fill="#1d1d10" xml:space="preserve">Aviostivalius  klossi bispiniformis</text><text x="1143.7" y="550.23" fill="#36323f" xml:space="preserve">Ctenophthalmus  yunnanus</text><text x="1143.7" y="586.70" fill="#36323f" xml:space="preserve">Ctenophthalmus  quadratus</text><text x="1143.7" y="623.17" fill="#10102c" xml:space="preserve">Frontopsylla  spadix</text><text x="1143.7" y="659.64" fill="#10102c" xml:space="preserve">Frontopsylla  diqingensis</text><text x="1143.7" y="696.11" fill="#10102c" xml:space="preserve">Leptopsylla  segnis</text><text x="1143.7" y="732.58" fill="#1e140e" xml:space="preserve">Jellisonia  amadoi</text><text x="1143.7" y="769.05" fill="#1e140e" xml:space="preserve">Nosopsyllus  laeviceps</text><text x="1143.7" y="805.52" fill="#1e140e" xml:space="preserve">Macrostylophora  euteles</text><text x="1143.7" y="841.99" fill="#10102c" xml:space="preserve">Paradoxopsyllus  custodis</text><text x="1143.7" y="878.46" fill="#1e140e" xml:space="preserve">Citellophilus  tesquorum</text><text x="1143.7" y="914.93" fill="#1e140e" xml:space="preserve">Ceratophyllus  anisus</text><text x="1143.7" y="951.40" fill="#1e140e" xml:space="preserve">Ceratophyllus  wui</text></g>
<g font-size="24.7" font-weight="bold" fill="#000"><text x="1650" y="40.8">Out group</text><text x="1651.5" y="161.5">Pulicidae</text><text x="1649.6" y="305.9">Hystrichopsyllidae</text><text x="1651.9" y="340.2">Vermipsyllidae</text><text x="1649.1" y="425.2">Ctenophthalmidae</text><text x="1651.9" y="508.6">Stivaliidae</text><text x="1647.7" y="559.1">Ctenophthalmidae</text><text x="1649.1" y="652.0">Leptopsyllidae</text><text x="1650.8" y="772.0">Ceratophyllidae</text><text x="1650.8" y="842.3">Leptopsyllidae</text><text x="1654.1" y="920.1">Ceratophyllidae</text></g>
<g stroke="#000" stroke-width="2"><line x1="51.08" y1="961.5" x2="1135.80" y2="961.5"/><line x1="1135.00" y1="961.5" x2="1135.00" y2="970.8"/><line x1="1044.74" y1="961.5" x2="1044.74" y2="970.8"/><line x1="954.48" y1="961.5" x2="954.48" y2="970.8"/><line x1="864.22" y1="961.5" x2="864.22" y2="970.8"/><line x1="773.96" y1="961.5" x2="773.96" y2="970.8"/><line x1="683.70" y1="961.5" x2="683.70" y2="970.8"/><line x1="593.44" y1="961.5" x2="593.44" y2="970.8"/><line x1="503.18" y1="961.5" x2="503.18" y2="970.8"/><line x1="412.92" y1="961.5" x2="412.92" y2="970.8"/><line x1="322.66" y1="961.5" x2="322.66" y2="970.8"/><line x1="232.40" y1="961.5" x2="232.40" y2="970.8"/><line x1="142.14" y1="961.5" x2="142.14" y2="970.8"/><line x1="51.88" y1="961.5" x2="51.88" y2="970.8"/></g>
<g font-size="23" fill="#000"><text transform="translate(1135.00 994.8) scale(1 1.06)" text-anchor="middle">0</text><text transform="translate(1044.74 994.8) scale(1 1.06)" text-anchor="middle">10</text><text transform="translate(954.48 994.8) scale(1 1.06)" text-anchor="middle">20</text><text transform="translate(864.22 994.8) scale(1 1.06)" text-anchor="middle">30</text><text transform="translate(773.96 994.8) scale(1 1.06)" text-anchor="middle">40</text><text transform="translate(683.70 994.8) scale(1 1.06)" text-anchor="middle">50</text><text transform="translate(593.44 994.8) scale(1 1.06)" text-anchor="middle">60</text><text transform="translate(503.18 994.8) scale(1 1.06)" text-anchor="middle">70</text><text transform="translate(412.92 994.8) scale(1 1.06)" text-anchor="middle">80</text><text transform="translate(322.66 994.8) scale(1 1.06)" text-anchor="middle">90</text><text transform="translate(232.40 994.8) scale(1 1.06)" text-anchor="middle">100</text><text transform="translate(142.14 994.8) scale(1 1.06)" text-anchor="middle">110</text><text transform="translate(51.88 994.8) scale(1 1.06)" text-anchor="middle">120</text><text x="1156.5" y="984.2">Mya</text></g>
<rect x="7.60" y="1029.8" width="530.40" height="65.9" fill="#f3c9e4"/><rect x="540.00" y="1029.8" width="386.00" height="65.9" fill="#cbd4e7"/><rect x="928.00" y="1029.8" width="182.30" height="65.9" fill="#fccdac"/><rect x="1112.20" y="1029.8" width="21.70" height="65.9" fill="#aadfc5"/>
<g font-size="23.7" font-weight="bold" fill="#000"><text x="273.20" y="1071.5" text-anchor="middle">Cretaceous</text><text x="733.50" y="1071.5" text-anchor="middle">Paleogene</text><text x="1019.40" y="1071.5" text-anchor="middle">Neogene</text><text x="1111.40" y="1070.5" font-size="24.7">Quaternary</text></g>
</svg></body></html>
